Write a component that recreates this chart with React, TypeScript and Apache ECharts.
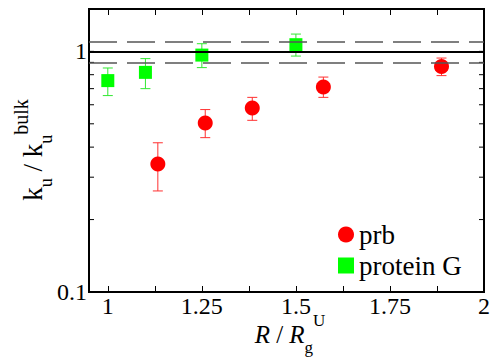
import React, { useEffect, useRef } from 'react';
import * as echarts from 'echarts';

// ---- data ----
const prbX = [1.133, 1.259, 1.384, 1.573, 1.887];
const prbY = [0.34, 0.504, 0.582, 0.711, 0.866];
const prbLow = [0.263, 0.438, 0.517, 0.644, 0.793];
const prbHigh = [0.417, 0.573, 0.644, 0.782, 0.938];

const pgX = [1.0, 1.1, 1.25, 1.5];
const pgY = [0.756, 0.818, 0.965, 1.066];
const pgLow = [0.655, 0.7, 0.856, 0.956];
const pgHigh = [0.853, 0.933, 1.076, 1.18];

const xTickValues = [1, 1.125, 1.25, 1.375, 1.5, 1.625, 1.75, 1.875, 2];
const xLabelValues = [1, 1.25, 1.5, 1.75, 2];
const yTickValues = [0.2, 0.3, 0.4, 0.5, 0.6, 0.7, 0.8, 0.9, 1];
const yLabelValues = [0.1, 1];
const refSolid = [1];
const refDashed = [1.1, 0.9];

const X_MIN = 0.95;
const X_MAX = 2;
const Y_MIN = 0.1;
const Y_MAX = 1.5;

const FONT = 'Liberation Serif';

function errorBarSeries(name: string, xs: number[], lows: number[], highs: number[], color: string) {
  return {
    name,
    type: 'custom',
    z: 2,
    silent: true,
    encode: { x: 0, y: [1, 2] },
    data: xs.map((x, i) => [x, lows[i], highs[i]]),
    renderItem: (params: any, api: any) => {
      const top = api.coord([api.value(0), api.value(2)]);
      const bot = api.coord([api.value(0), api.value(1)]);
      const hw = 5;
      const style = { stroke: color, lineWidth: 1 };
      return {
        type: 'group',
        children: [
          { type: 'line', shape: { x1: top[0], y1: top[1], x2: bot[0], y2: bot[1] }, style },
          { type: 'line', shape: { x1: top[0] - hw, y1: top[1], x2: top[0] + hw, y2: top[1] }, style },
          { type: 'line', shape: { x1: bot[0] - hw, y1: bot[1], x2: bot[0] + hw, y2: bot[1] }, style },
        ],
      };
    },
  };
}

export default function App() {
  const ref = useRef<HTMLDivElement>(null);
  useEffect(() => {
    if (!ref.current) return;
    const chart = echarts.init(ref.current, null, { renderer: 'svg' });
    const tickLen = 5;
    const option: any = {
      animation: false,
      backgroundColor: '#fff',
      textStyle: { fontFamily: FONT },
      grid: {
        left: 89,
        right: 6,
        top: 9,
        bottom: 68,
        show: true,
        borderColor: '#000',
        borderWidth: 2,
        backgroundColor: 'transparent',
      },
      xAxis: [
        {
          type: 'value',
          min: X_MIN,
          max: X_MAX,
          axisLine: { show: false },
          splitLine: { show: false },
          axisTick: {
            show: true,
            inside: true,
            length: 6,
            customValues: xTickValues,
            lineStyle: { color: '#000', width: 1 },
          },
          axisLabel: {
            customValues: xLabelValues,
            formatter: (v: number) => String(v),
            fontFamily: FONT,
            fontSize: 24,
            color: '#000',
            margin: 2,
          },
        },
        {
          type: 'value',
          position: 'top',
          min: X_MIN,
          max: X_MAX,
          axisLine: { show: false },
          splitLine: { show: false },
          axisTick: {
            show: true,
            inside: true,
            length: 6,
            customValues: xTickValues,
            lineStyle: { color: '#000', width: 1 },
          },
          axisLabel: { show: false },
        },
      ],
      yAxis: {
        type: 'log',
        logBase: 10,
        min: Y_MIN,
        max: Y_MAX,
        axisLine: { show: false },
        splitLine: { show: false },
        axisTick: { show: false },
        axisLabel: {
          fontFamily: FONT,
          fontSize: 24,
          color: '#000',
          margin: 2,
          showMaxLabel: false,
          formatter: (v: number) => {
            const hit = yLabelValues.find((l) => Math.abs(l - v) < 1e-6 * Math.max(1, l));
            return hit !== undefined ? String(hit) : '';
          },
        },
      },
      legend: {
        orient: 'vertical',
        left: 338,
        top: 221,
        padding: 0,
        itemWidth: 16,
        itemHeight: 16,
        itemGap: 4,
        textStyle: { fontFamily: FONT, fontSize: 27, color: '#000', lineHeight: 27 },
        data: [
          { name: 'prb', icon: 'circle' },
          { name: 'protein G', icon: 'rect' },
        ],
      },
      series: [
        {
          name: 'ref',
          type: 'line',
          data: [],
          z: 1,
          silent: true,
          markLine: {
            silent: true,
            symbol: 'none',
            label: { show: false },
            data: [
              ...refSolid.map((v) => ({ yAxis: v, lineStyle: { color: '#000', width: 2, type: 'solid' } })),
              ...refDashed.map((v) => ({ yAxis: v, lineStyle: { color: '#555', width: 1.5, type: [28, 10] } })),
            ],
          },
        },
        {
          name: 'yticks',
          type: 'custom',
          z: 1,
          silent: true,
          data: yTickValues.map((v) => [X_MIN, v]),
          renderItem: (params: any, api: any) => {
            const cs = params.coordSys;
            const p = api.coord([api.value(0), api.value(1)]);
            const style = { stroke: '#000', lineWidth: 1 };
            return {
              type: 'group',
              children: [
                { type: 'line', shape: { x1: cs.x, y1: p[1], x2: cs.x + tickLen, y2: p[1] }, style },
                { type: 'line', shape: { x1: cs.x + cs.width - tickLen, y1: p[1], x2: cs.x + cs.width, y2: p[1] }, style },
              ],
            };
          },
        },
        errorBarSeries('prb err', prbX, prbLow, prbHigh, '#ff3030'),
        errorBarSeries('protein G err', pgX, pgLow, pgHigh, '#30e830'),
        {
          name: 'prb',
          type: 'scatter',
          z: 3,
          symbol: 'circle',
          symbolSize: 15,
          itemStyle: { color: '#ff0000', opacity: 1 },
          data: prbX.map((x, i) => [x, prbY[i]]),
        },
        {
          name: 'protein G',
          type: 'scatter',
          z: 3,
          symbol: 'rect',
          symbolSize: 13,
          itemStyle: { color: '#00ff00', opacity: 1 },
          data: pgX.map((x, i) => [x, pgY[i]]),
        },
      ],
      graphic: [
        {
          type: 'text',
          x: 33,
          y: 150,
          rotation: Math.PI / 2,
          style: {
            text: '{k|k}{s|u}{k| / k}{s|u}{p|bulk}',
            align: 'center',
            verticalAlign: 'middle',
            fill: '#000',
            fontFamily: FONT,
            rich: {
              k: { fontFamily: FONT, fontSize: 27, lineHeight: 44, fill: '#000' },
              s: { fontFamily: FONT, fontSize: 18, lineHeight: 16, verticalAlign: 'bottom', fill: '#000' },
              p: { fontFamily: FONT, fontSize: 20, lineHeight: 18, verticalAlign: 'top', fill: '#000' },
            },
          },
        },
        {
          type: 'text',
          x: 290,
          y: 334,
          style: {
            text: '{i|R}{n| / }{i|R}{s|g}{p|U}',
            align: 'center',
            verticalAlign: 'middle',
            fill: '#000',
            fontFamily: FONT,
            rich: {
              i: { fontFamily: FONT, fontSize: 25, fontStyle: 'italic', lineHeight: 44, fill: '#000' },
              n: { fontFamily: FONT, fontSize: 25, lineHeight: 44, fill: '#000' },
              s: { fontFamily: FONT, fontSize: 17, lineHeight: 12, verticalAlign: 'bottom', fill: '#000' },
              p: { fontFamily: FONT, fontSize: 17, lineHeight: 21, verticalAlign: 'top', fill: '#000' },
            },
          },
        },
      ],
    };
    chart.setOption(option);
    return () => chart.dispose();
  }, []);
  return (
    <div
      ref={ref}
      style={{ position: 'absolute', left: 0, top: 0, width: 493, height: 360, background: '#fff' }}
    />
  );
}
